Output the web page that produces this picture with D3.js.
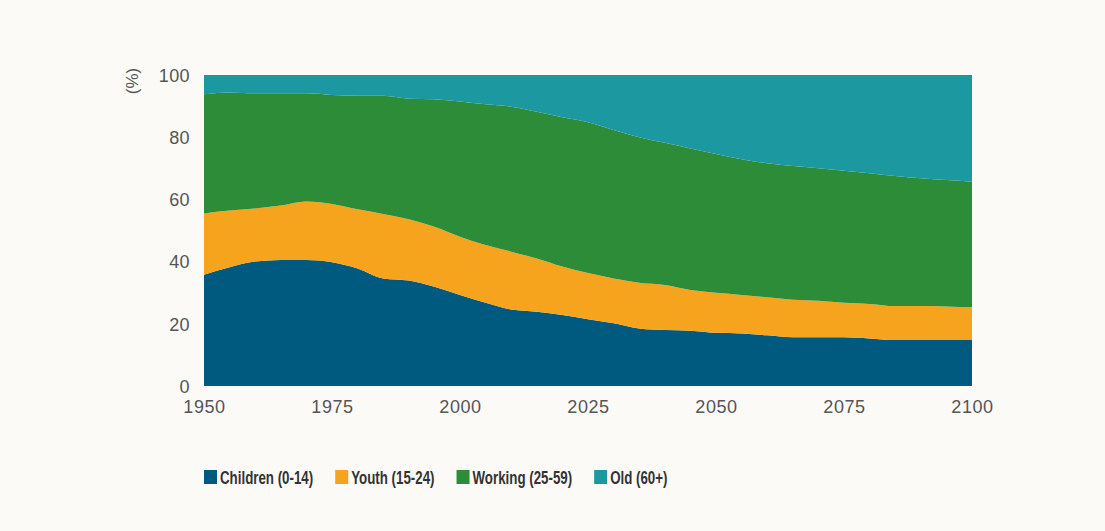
<!DOCTYPE html>
<html>
<head>
<meta charset="utf-8">
<script src="https://cdn.jsdelivr.net/npm/d3@7"></script>
<style>
  html, body { margin: 0; padding: 0; background: #fbfaf7; }
  svg { display: block; }
</style>
</head>
<body>
<svg id="chart" width="1105" height="531"></svg>
<script>
const years = [1950,1955,1960,1965,1970,1975,1980,1985,1990,1995,2000,2005,2010,2015,2020,2025,2030,2035,2040,2045,2050,2055,2060,2065,2070,2075,2080,2085,2090,2095,2100];
const children = [35.8,38.2,40.0,40.5,40.5,39.8,37.8,34.6,33.9,31.9,29.3,26.8,24.6,23.9,22.8,21.5,20.2,18.5,18.0,17.8,17.1,16.9,16.3,15.7,15.7,15.7,15.3,14.8,14.8,14.8,14.8];
const youth    = [19.7,18.2,17.1,17.5,18.8,18.7,19.0,20.7,19.7,19.3,18.7,18.5,18.6,17.1,15.6,14.8,14.4,14.7,14.5,13.1,12.9,12.4,12.2,12.0,11.7,11.1,11.1,10.9,10.9,10.8,10.5];
const working  = [38.3,38.0,37.0,36.1,34.8,35.1,36.5,38.0,38.8,41.0,43.5,45.3,46.6,47.2,48.0,48.5,47.7,46.8,45.7,45.5,44.6,43.6,43.1,43.0,42.6,42.4,42.0,41.8,41.1,40.6,40.4];
const old      = [6.2,5.6,5.9,5.9,5.9,6.4,6.7,6.7,7.6,7.8,8.5,9.4,10.2,11.8,13.6,15.2,17.7,20.0,21.8,23.6,25.4,27.1,28.4,29.3,30.0,30.8,31.6,32.5,33.2,33.8,34.3];
const seriesNames = ["Children (0-14)", "Youth (15-24)", "Working (25-59)", "Old (60+)"];
const seriesColors = ["#00597f", "#f6a41d", "#2d8c38", "#1b98a0"];
const xTicks = [1950, 1975, 2000, 2025, 2050, 2075, 2100];
const yTicks = [0, 20, 40, 60, 80, 100];

const keys = ["children", "youth", "working", "old"];
const rows = years.map((y, i) => ({year: y, children: children[i], youth: youth[i], working: working[i], old: old[i]}));

const svg = d3.select("#chart");
const x = d3.scaleLinear().domain([1950, 2100]).range([204, 972]);
const y = d3.scaleLinear().domain([0, 100]).range([386, 75]);

const layers = d3.stack().keys(keys)(rows);

const area = d3.area()
  .x(d => x(d.data.year))
  .y0(d => y(d[0]))
  .y1(d => y(d[1]))
  .curve(d3.curveMonotoneX);
const topArea = d3.area()
  .x(d => x(d.data.year))
  .y0(d => y(d[0]))
  .y1(() => y(100))
  .curve(d3.curveMonotoneX);

svg.append("g").selectAll("path")
  .data(layers)
  .join("path")
  .attr("d", (d, i) => i === layers.length - 1 ? topArea(d) : area(d))
  .attr("fill", (d, i) => seriesColors[i]);

const font = "'Helvetica Neue', 'Liberation Sans', Arial, sans-serif";

// Y axis
const yAxis = d3.axisLeft(y).tickValues(yTicks).tickSize(0).tickPadding(0).tickFormat(d3.format("d"));
const gy = svg.append("g").attr("transform", "translate(190,0)").call(yAxis);
gy.select(".domain").remove();
gy.selectAll("text").attr("font-family", font).attr("font-size", 18).attr("fill", "#555").attr("letter-spacing", 0.4).attr("dy", "0.35em");

// X axis
const xAxis = d3.axisBottom(x).tickValues(xTicks).tickSize(0).tickPadding(0).tickFormat(d3.format("d"));
const gx = svg.append("g").attr("transform", "translate(0,400)").call(xAxis);
gx.select(".domain").remove();
gx.selectAll("text").attr("font-family", font).attr("font-size", 18).attr("fill", "#555").attr("letter-spacing", 0.6).attr("dy", "0.72em");

// Y unit label
svg.append("text")
  .attr("transform", "translate(138,81) rotate(-90)")
  .attr("text-anchor", "middle")
  .attr("font-family", font).attr("font-size", 17).attr("fill", "#555")
  .text("(%)");

// Legend
const legendFont = "'Liberation Sans', Arial, sans-serif";
const sx = 0.72;
const legend = svg.append("g").attr("transform", "translate(204,477)");
let lx = 0;
seriesNames.forEach((name, i) => {
  const g = legend.append("g").attr("transform", `translate(${lx},0)`);
  g.append("rect").attr("x", 0).attr("y", -7).attr("width", 13).attr("height", 14).attr("fill", seriesColors[i]);
  const t = g.append("text")
    .attr("transform", `translate(16,0) scale(${sx},1)`)
    .attr("dy", "0.36em")
    .attr("font-family", legendFont).attr("font-size", 18.5).attr("font-weight", 600)
    .attr("fill", "#333")
    .text(name);
  const w = t.node().getComputedTextLength() * sx;
  lx += 16 + w + 22;
});
</script>
</body>
</html>
